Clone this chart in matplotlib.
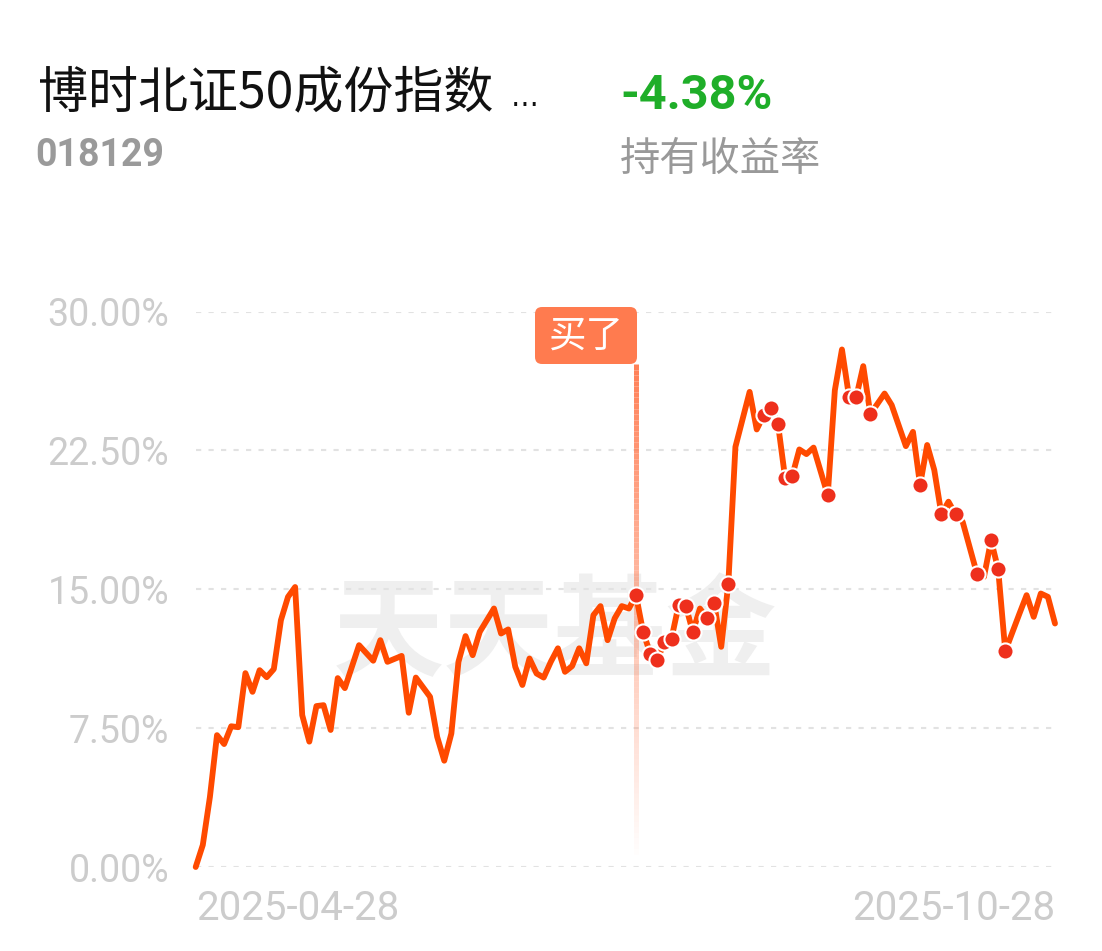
import matplotlib.pyplot as plt
import matplotlib.transforms as mtransforms
from matplotlib.collections import LineCollection
from matplotlib.patches import FancyBboxPatch
import numpy as np

plt.rcParams['font.family'] = ['Noto Sans CJK SC', 'DejaVu Sans']

# trading-day index counted from 2025-04-28, cumulative return in %
days = [0, 1, 2, 3, 4, 5, 6, 7, 8, 9, 10, 11, 12, 13, 14, 15, 16, 17, 18, 19,
        20, 21, 23, 25, 26, 27, 29, 30, 31, 33, 34, 35, 36, 37, 38, 39, 40,
        42, 43, 44, 45, 46, 47, 48, 49, 50, 51, 52, 53, 54, 55, 56, 57, 58,
        59, 60, 61, 62, 63, 64, 65, 66, 67, 68, 69, 70, 71, 72, 73, 74, 75,
        76, 78, 79, 80, 81, 82, 83, 84, 85, 86, 87, 89, 90, 91, 92, 93, 94,
        95, 97, 98, 100, 101, 102, 103, 104, 105, 106, 107, 108, 110, 111,
        112, 113, 114, 116, 117, 118, 119, 120, 121]
returns = [0.0, 1.19, 3.78, 7.12, 6.64, 7.6, 7.55, 10.47, 9.46, 10.63, 10.25,
           10.69, 13.33, 14.59, 15.12, 8.2, 6.77, 8.69, 8.74, 7.4, 10.2, 9.66,
           11.98, 11.14, 12.25, 11.08, 11.4, 8.33, 10.23, 9.19, 7.03, 5.74,
           7.21, 11.08, 12.47, 11.44, 12.7, 13.96, 12.61, 12.83, 10.81, 9.83,
           11.26, 10.45, 10.23, 11.08, 11.81, 10.54, 10.85, 11.81, 11.0, 13.6,
           14.09, 12.25, 13.43, 14.09, 13.96, 14.68, 12.7, 11.53, 11.17, 12.16,
           12.34, 14.14, 14.11, 12.7, 13.96, 13.43, 14.27, 11.89, 15.31, 22.69,
           25.66, 23.63, 24.4, 24.81, 23.91, 21.0, 21.12, 22.55, 22.3, 22.65,
           20.08, 25.75, 27.95, 25.39, 25.36, 27.05, 24.46, 25.57, 24.95,
           22.73, 23.5, 20.63, 22.79, 21.44, 19.06, 19.73, 19.04, 18.64, 15.85,
           15.67, 17.65, 16.07, 11.66, 13.69, 14.68, 13.51, 14.77, 14.59, 13.15]
hold_days = [62, 63, 64, 65, 66, 67, 68, 69, 70, 72, 73, 75, 80, 81, 82, 83,
             84, 89, 92, 93, 95, 102, 105, 107, 110, 112, 113, 114]
buy_day = 62
tick_days = [0, 121]
tick_labels = ['2025-04-28', '2025-10-28']
y_ticks = [0, 7.5, 15, 22.5, 30]

fund_name = '博时北证50成份指数'
fund_code = '018129'
hold_return = '-4.38%'
return_label = '持有收益率'
buy_label = '买了'
watermark = '天天基金'

W, H = 1102, 951
fig = plt.figure(figsize=(W / 100, H / 100), dpi=100)
ax = fig.add_axes([195.7 / W, 84 / H, 859.3 / W, 555.5 / H])
ax.set_xlim(tick_days[0], tick_days[-1])
ax.set_ylim(0, 30)

# header
fig.text(38 / W, 1 - 93 / H, fund_name, fontsize=36, color='#111111',
         ha='left', va='center')
fig.text(511 / W, 1 - 98 / H, '…', fontsize=20, color='#111111',
         family='DejaVu Sans', ha='left', va='center')
fig.text(35 / W, 1 - 156 / H, fund_code, fontsize=27, color='#9a9a9a',
         fontweight='bold', family='Roboto', ha='left', va='center')
fig.text(620 / W, 1 - 96 / H, hold_return, fontsize=35, color='#1fae29',
         fontweight='bold', family='Roboto', ha='left', va='center')
fig.text(620 / W, 1 - 159 / H, return_label, fontsize=29, color='#999999',
         ha='left', va='center')

# watermark behind the line
ax.text(555 / W, 1 - 636 / H, watermark, transform=fig.transFigure,
        fontsize=80, fontweight='bold', color='#efefef',
        ha='center', va='center', zorder=0.5)

for s in ax.spines.values():
    s.set_visible(False)
ax.set_yticks(y_ticks, ['{:.2f}%'.format(v) for v in y_ticks])
ax.set_xticks(tick_days, tick_labels)
ax.grid(axis='y', color='#e2e2e2', lw=1.5, ls=(0, (2.5, 3.5)))
ax.grid(axis='x', visible=False)
ax.tick_params(axis='y', length=0, pad=19, labelsize=27, labelcolor='#cccccc')
ax.tick_params(axis='x', length=0, pad=16, labelsize=29, labelcolor='#cccccc')
for lbl in ax.get_xticklabels() + ax.get_yticklabels():
    lbl.set_fontfamily('Roboto')
xl = ax.get_xticklabels()
xl[0].set_ha('left')
xl[-1].set_ha('right')

# buy marker: fading vertical line and tag
ys = np.linspace(27.16, 0.4, 90)
segs = [[(buy_day, ys[i]), (buy_day, ys[i + 1])] for i in range(len(ys) - 1)]
alphas = np.linspace(0.95, 0.0, len(segs))
cols = [(1.0, 0.48, 0.31, a) for a in alphas]
ax.add_collection(LineCollection(segs, colors=cols, linewidths=3.6, zorder=2))

trans = fig.dpi_scale_trans + mtransforms.ScaledTranslation(buy_day, 30, ax.transData)
ax.add_patch(FancyBboxPatch((-1.01, -0.525), 1.02, 0.57,
                            boxstyle='round,pad=0,rounding_size=0.07',
                            transform=trans, fc='#ff7b4f', ec='none',
                            clip_on=False, zorder=5))
ax.text(-0.50, -0.245, buy_label, transform=trans, fontsize=27, color='white',
        ha='center', va='center', zorder=6)

ax.plot(days, returns, color='#ff4a00', lw=4.2, solid_joinstyle='round',
        solid_capstyle='round', clip_on=False, zorder=3)
lookup = dict(zip(days, returns))
ax.scatter(hold_days, [lookup[d] for d in hold_days], s=135, c='#ee2f1c',
           edgecolors='white', linewidths=1.5, zorder=4, clip_on=False)

fig.savefig('out.png', dpi=100, facecolor='white')
